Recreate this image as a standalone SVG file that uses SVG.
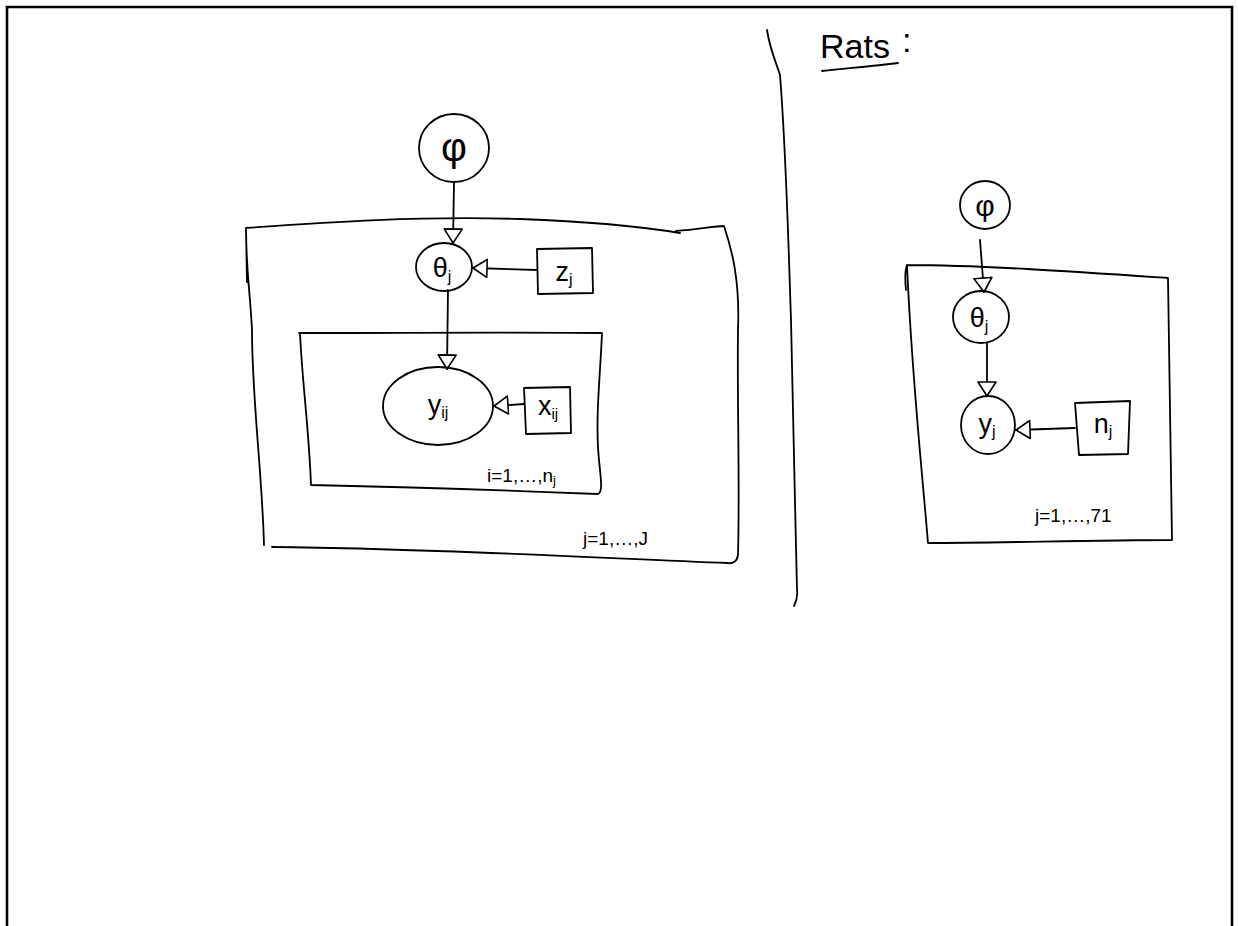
<svg xmlns="http://www.w3.org/2000/svg" width="1238" height="926" viewBox="0 0 1238 926">
<style>
.ink{fill:none;stroke:#000;stroke-width:1.8;stroke-linecap:round;stroke-linejoin:round}
.frame{fill:none;stroke:#000;stroke-width:2.6}
.t{font-family:"Liberation Sans",Arial,sans-serif;fill:#000}
.big{font-size:34px}
.mid{font-size:27px}
.sm{font-size:19px}
</style>
<defs>
<marker id="tri" viewBox="0 0 16 20" refX="15" refY="10" markerWidth="16" markerHeight="20" markerUnits="userSpaceOnUse" orient="auto">
<path d="M1,1 L15,10 L1,19 Z" fill="#fff" stroke="#000" stroke-width="1.6" stroke-linejoin="round"/>
</marker>
</defs>
<rect width="1238" height="926" fill="#fff"/>
<path class="frame" d="M7,926 L7,7 L1232,7 L1232,926"/>

<g id="plates">
<path id="outer-plate" class="ink" d="M246,228 C330,222 420,216 520,219 C600,222 650,228 680,233 M676,231 C700,229 715,226 724,226 C732,250 740,280 738,330 C737,400 740,480 738,555 C737,562 732,564 728,563 C600,558 420,548 272,547 M264,545 C262,470 252,400 252,330 C250,290 246,270 246,228 M246,228 L247,282"/>
<path id="inner-plate" class="ink" d="M299,333 C400,333 500,332 602,333 C600,380 595,420 599,460 C601,480 603,492 598,494 C500,490 400,487 311,485 C309,430 302,380 300,333"/>
<text class="t sm" x="487" y="482">i=1,…,n<tspan font-size="13" dy="3">j</tspan></text>
<text class="t sm" x="583" y="545">j=1,…,J</text>
<path id="right-plate" class="ink" d="M906,290 C905,280 905,270 907,265 C980,265 1080,272 1168,278 C1170,360 1171,450 1172,540 C1090,540 1000,543 928,543 C922,470 912,380 907,265"/>
<text class="t sm" x="1035" y="522">j=1,…,71</text>
</g>

<path id="divider" class="ink" d="M767,30 C770,50 776,62 780,75 C786,150 788,230 791,320 C793,420 795,500 797,590 C798,597 796,602 794,606"/>

<g id="rats-title">
<text class="t big" x="820" y="58">Rats</text>
<text class="t big" x="902" y="52">:</text>
<path class="ink" d="M822,71 C850,68 875,66 898,63"/>
</g>

<g id="connectors">
<path class="ink" d="M454,183 L453,243" marker-end="url(#tri)"/>
<path class="ink" d="M537,270 L473,268" marker-end="url(#tri)"/>
<path class="ink" d="M448,290 L447,369" marker-end="url(#tri)"/>
<path class="ink" d="M524,404 L494,406" marker-end="url(#tri)"/>
<path class="ink" d="M980,240 L984,292" marker-end="url(#tri)"/>
<path class="ink" d="M987,343 L987,396" marker-end="url(#tri)"/>
<path class="ink" d="M1075,428 L1016,430" marker-end="url(#tri)"/>
</g>

<g id="phi">
<ellipse class="ink" cx="454" cy="148" rx="35" ry="34"/>
<text class="t" font-size="40" x="454" y="161" text-anchor="middle">φ</text>
</g>
<g id="theta">
<ellipse class="ink" cx="444" cy="267" rx="28" ry="24"/>
<text class="t mid" x="442" y="277" text-anchor="middle">θ<tspan font-size="16" dy="5">j</tspan></text>
</g>
<g id="z">
<path class="ink" d="M537,249 L592,248 L593,293 L538,294 Z"/>
<text class="t mid" x="564" y="281" text-anchor="middle">z<tspan font-size="16" dy="4">j</tspan></text>
</g>
<g id="y-ij">
<ellipse class="ink" cx="438" cy="406" rx="55" ry="39"/>
<text class="t mid" x="438" y="414" text-anchor="middle">y<tspan font-size="16" dy="4">ij</tspan></text>
</g>
<g id="x-ij">
<path class="ink" d="M524,388 L570,387 L571,433 L526,434 Z"/>
<text class="t mid" x="548" y="415" text-anchor="middle">x<tspan font-size="15" dy="4">ij</tspan></text>
</g>

<g id="phi-r">
<ellipse class="ink" cx="985" cy="205" rx="25" ry="24"/>
<text class="t" font-size="30" x="985" y="216" text-anchor="middle">φ</text>
</g>
<g id="theta-r">
<ellipse class="ink" cx="981" cy="317" rx="28" ry="26"/>
<text class="t mid" x="979" y="327" text-anchor="middle">θ<tspan font-size="16" dy="5">j</tspan></text>
</g>
<g id="y-r">
<ellipse class="ink" cx="988" cy="425" rx="27" ry="29"/>
<text class="t mid" x="987" y="433" text-anchor="middle">y<tspan font-size="16" dy="4">j</tspan></text>
</g>
<g id="n-r">
<path class="ink" d="M1075,403 L1130,401 L1128,454 L1079,455 Z"/>
<text class="t mid" x="1103" y="433" text-anchor="middle">n<tspan font-size="16" dy="4">j</tspan></text>
</g>
</svg>
